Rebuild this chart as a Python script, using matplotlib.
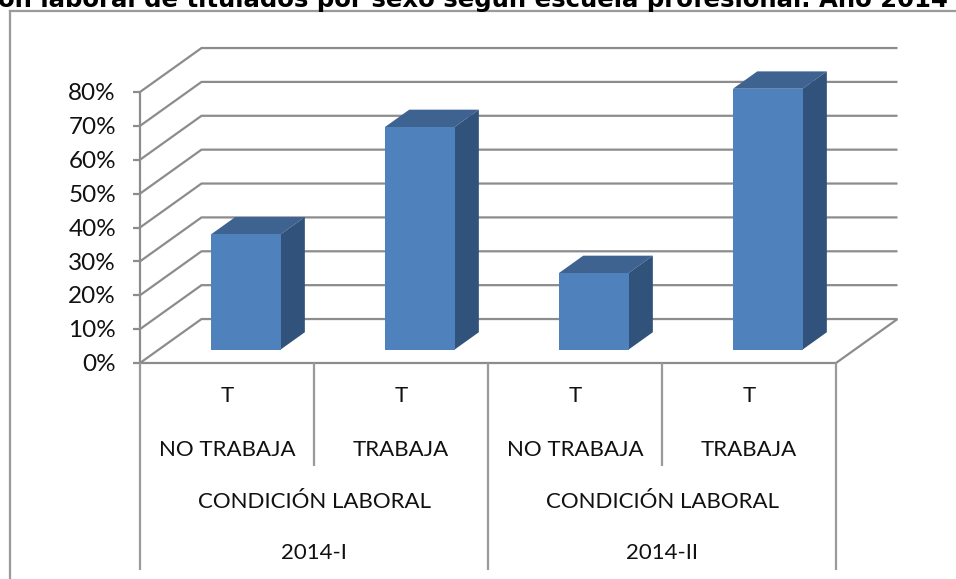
import matplotlib
matplotlib.use("Agg")
import matplotlib.pyplot as plt
from matplotlib.patches import Polygon

# values
condicion = ["NO TRABAJA", "TRABAJA", "NO TRABAJA", "TRABAJA"]
sexo = ["T", "T", "T", "T"]
valores = [34, 65.7, 22.6, 77]
grupos = ["CONDICIÓN LABORAL", "CONDICIÓN LABORAL"]
periodos = ["2014-I", "2014-II"]
y_ticks = [0, 10, 20, 30, 40, 50, 60, 70, 80]

W, H = 956, 579
plt.rcParams["font.family"] = ["Lato", "DejaVu Sans"]
fig = plt.figure(figsize=(W / 100, H / 100), dpi=100)
ax = fig.add_axes([140 / W, 1 - 363 / H, 696 / W, 271 / H])
ax.set_xlim(0, 4)
ax.set_ylim(0, 80)
ax.axis("off")

GRID = "#8c8c8c"
FRAME = "#9a9a9a"
FACE = "#4f81bd"
TOP = "#3e6391"
SIDE = "#31527a"
DX, DY = 61.5 / 174, 44 / 3.39  # shift of the back wall, in data units


def proj(x, y, d):
    # oblique projection, d = 0 front plane, d = 1 back wall
    return x + DX * d, y + DY * d


def line(pts, **kw):
    ax.plot([p[0] for p in pts], [p[1] for p in pts], color=GRID, lw=1.6,
            clip_on=False, solid_capstyle="butt", **kw)


# walls
for t in y_ticks:
    line([proj(0, t, 0), proj(0, t, 1), proj(4, t, 1)], zorder=1)
    ax.text(-0.138, t - 0.5, f"{t}%", ha="right", va="center", fontsize=17.5, color="#111111")
    line([(-0.04, t), (0, t)], zorder=1)
line([proj(0, 0, 0), proj(4, 0, 0), proj(4, 0, 1)], zorder=1)
line([proj(0, 0, 0), proj(0, 80, 0)], zorder=1)

# bars
BAR_W = 0.2
D0, D1 = 0.305, 0.7
for i, v in enumerate(valores):
    c = i + 0.5
    l, r = c - BAR_W, c + BAR_W
    ax.add_patch(Polygon([proj(l, v, D0), proj(r, v, D0), proj(r, v, D1), proj(l, v, D1)],
                         fc=TOP, ec="none", clip_on=False, zorder=3))
    ax.add_patch(Polygon([proj(r, 0, D0), proj(r, v, D0), proj(r, v, D1), proj(r, 0, D1)],
                         fc=SIDE, ec="none", clip_on=False, zorder=3))
    ax.add_patch(Polygon([proj(l, 0, D0), proj(r, 0, D0), proj(r, v, D0), proj(l, v, D0)],
                         fc=FACE, ec="none", clip_on=False, zorder=4))

# multi level category axis, rows in axes-fraction below the floor
trans = ax.get_xaxis_transform()
row_y = [-33 / 271, -87 / 271, -139 / 271, -190 / 271]
for i in range(4):
    ax.text(i + 0.5, row_y[0], sexo[i], transform=trans, ha="center", va="center", fontsize=16, color="#111111")
    ax.text(i + 0.5, row_y[1], condicion[i], transform=trans, ha="center", va="center", fontsize=16, color="#111111")
for i in range(2):
    ax.text(2 * i + 1, row_y[2], grupos[i], transform=trans, ha="center", va="center", fontsize=16, color="#111111")
    ax.text(2 * i + 1, row_y[3], periodos[i], transform=trans, ha="center", va="center", fontsize=16, color="#111111")
for x, low in [(0, -207), (1, -103), (2, -207), (3, -103), (4, -207)]:
    ax.plot([x, x], [0, low / 271], transform=trans, color=FRAME, lw=1.6, clip_on=False, solid_capstyle="butt")

# chart frame
fig.add_artist(plt.Line2D([10 / W, 10 / W], [0, 1 - 11 / H], color=FRAME, lw=1.6))
fig.add_artist(plt.Line2D([10 / W, 1], [1 - 11 / H, 1 - 11 / H], color=FRAME, lw=1.6))

# title runs off the top of the crop
fig.text(-2 / W, 1 - 7 / H, "ón laboral de titulados por sexo según escuela profesional. Año 2014",
         ha="left", va="baseline", fontsize=17.6, fontweight="bold", family=["DejaVu Sans"], color="black")

fig.savefig("out.png", dpi=100)
